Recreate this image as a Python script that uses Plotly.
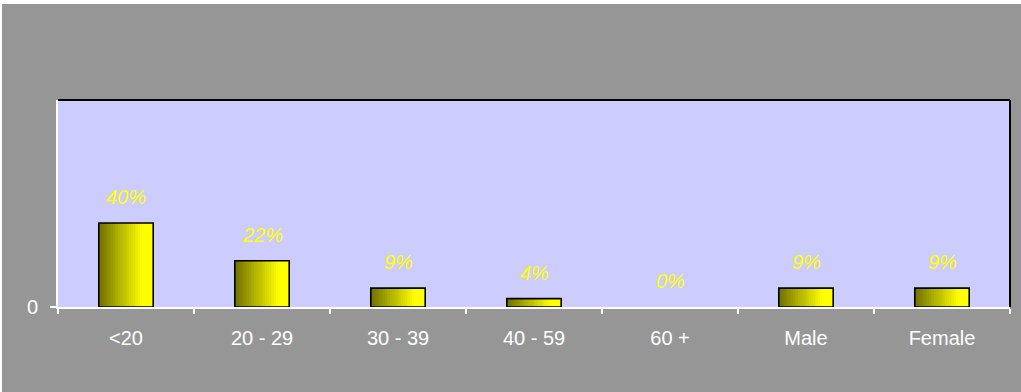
import plotly.graph_objects as go

categories = ["<20", "20 - 29", "30 - 39", "40 - 59", "60 +", "Male", "Female"]
values = [40, 22, 9, 4, 0, 9, 9]
labels = ["40%", "22%", "9%", "4%", "0%", "9%", "9%"]

GRAY = "#969696"
PLOT_BG = "#CCCCFF"
BAR_W = 0.40
N = 30

def lerp(c1, c2, t):
    return tuple(round(a + (b - a) * t) for a, b in zip(c1, c2))

dark = (0x6E, 0x6E, 0x00)
bright = (0xFF, 0xFF, 0x00)

fig = go.Figure()
strip = BAR_W / N
for i in range(N):
    t = min(1.0, (i + 0.5) / (N * 0.82))
    c = lerp(dark, bright, t)
    fig.add_trace(go.Bar(
        x=categories, y=values,
        width=strip * 1.08, offset=-BAR_W / 2 + i * strip,
        marker=dict(color="rgb(%d,%d,%d)" % c, line=dict(width=0)),
        showlegend=False, hoverinfo="skip",
    ))
fig.add_trace(go.Bar(
    x=categories, y=values, width=BAR_W, offset=-BAR_W / 2,
    marker=dict(color="rgba(0,0,0,0)",
                line=dict(color="black", width=[1.6 if v > 0 else 0 for v in values])),
    showlegend=False,
))

for c, v, lab in zip(categories, values, labels):
    fig.add_annotation(x=c, y=v, text=lab, showarrow=False, yanchor="bottom",
                       yshift=13, font=dict(family="Liberation Sans", size=20,
                                            color="#FFFF00", style="italic"))

shapes = [
    dict(type="line", xref="paper", yref="paper", x0=0, x1=1, y0=1, y1=1,
         line=dict(color="black", width=2)),
    dict(type="line", xref="paper", yref="paper", x0=1, x1=1, y0=0, y1=1,
         line=dict(color="black", width=2)),
    # white outer edge (top and left)
    dict(type="rect", xref="paper", yref="paper", x0=-58/952, x1=(1021-58)/952,
         y0=(307-4)/207, y1=(307+10)/207, line=dict(width=0), fillcolor="white"),
    dict(type="rect", xref="paper", yref="paper", x0=-70/952, x1=-56/952,
         y0=-90/207, y1=(307+10)/207, line=dict(width=0), fillcolor="white"),
]

fig.update_layout(
    width=1021, height=392,
    margin=dict(l=58, r=11, t=100, b=85),
    paper_bgcolor=GRAY, plot_bgcolor=PLOT_BG,
    barmode="overlay", shapes=shapes,
    font=dict(family="Liberation Sans", size=20, color="white"),
    xaxis=dict(showgrid=False, showline=True, linecolor="white", linewidth=2,
               ticks="outside", tickson="boundaries", tickcolor="white",
               ticklen=5, tickwidth=1.5, tickfont=dict(size=20, color="white"),
               zeroline=False, ticklabelstandoff=12),
    yaxis=dict(range=[0, 98.6], showgrid=False, showline=True, linecolor="white",
               linewidth=2, ticks="outside", tickcolor="white", ticklen=6,
               tickwidth=1.5, tickvals=[0], ticktext=["0"], zeroline=False,
               tickfont=dict(size=20, color="white"), ticklabelstandoff=8),
)

fig.write_html("out.html")
